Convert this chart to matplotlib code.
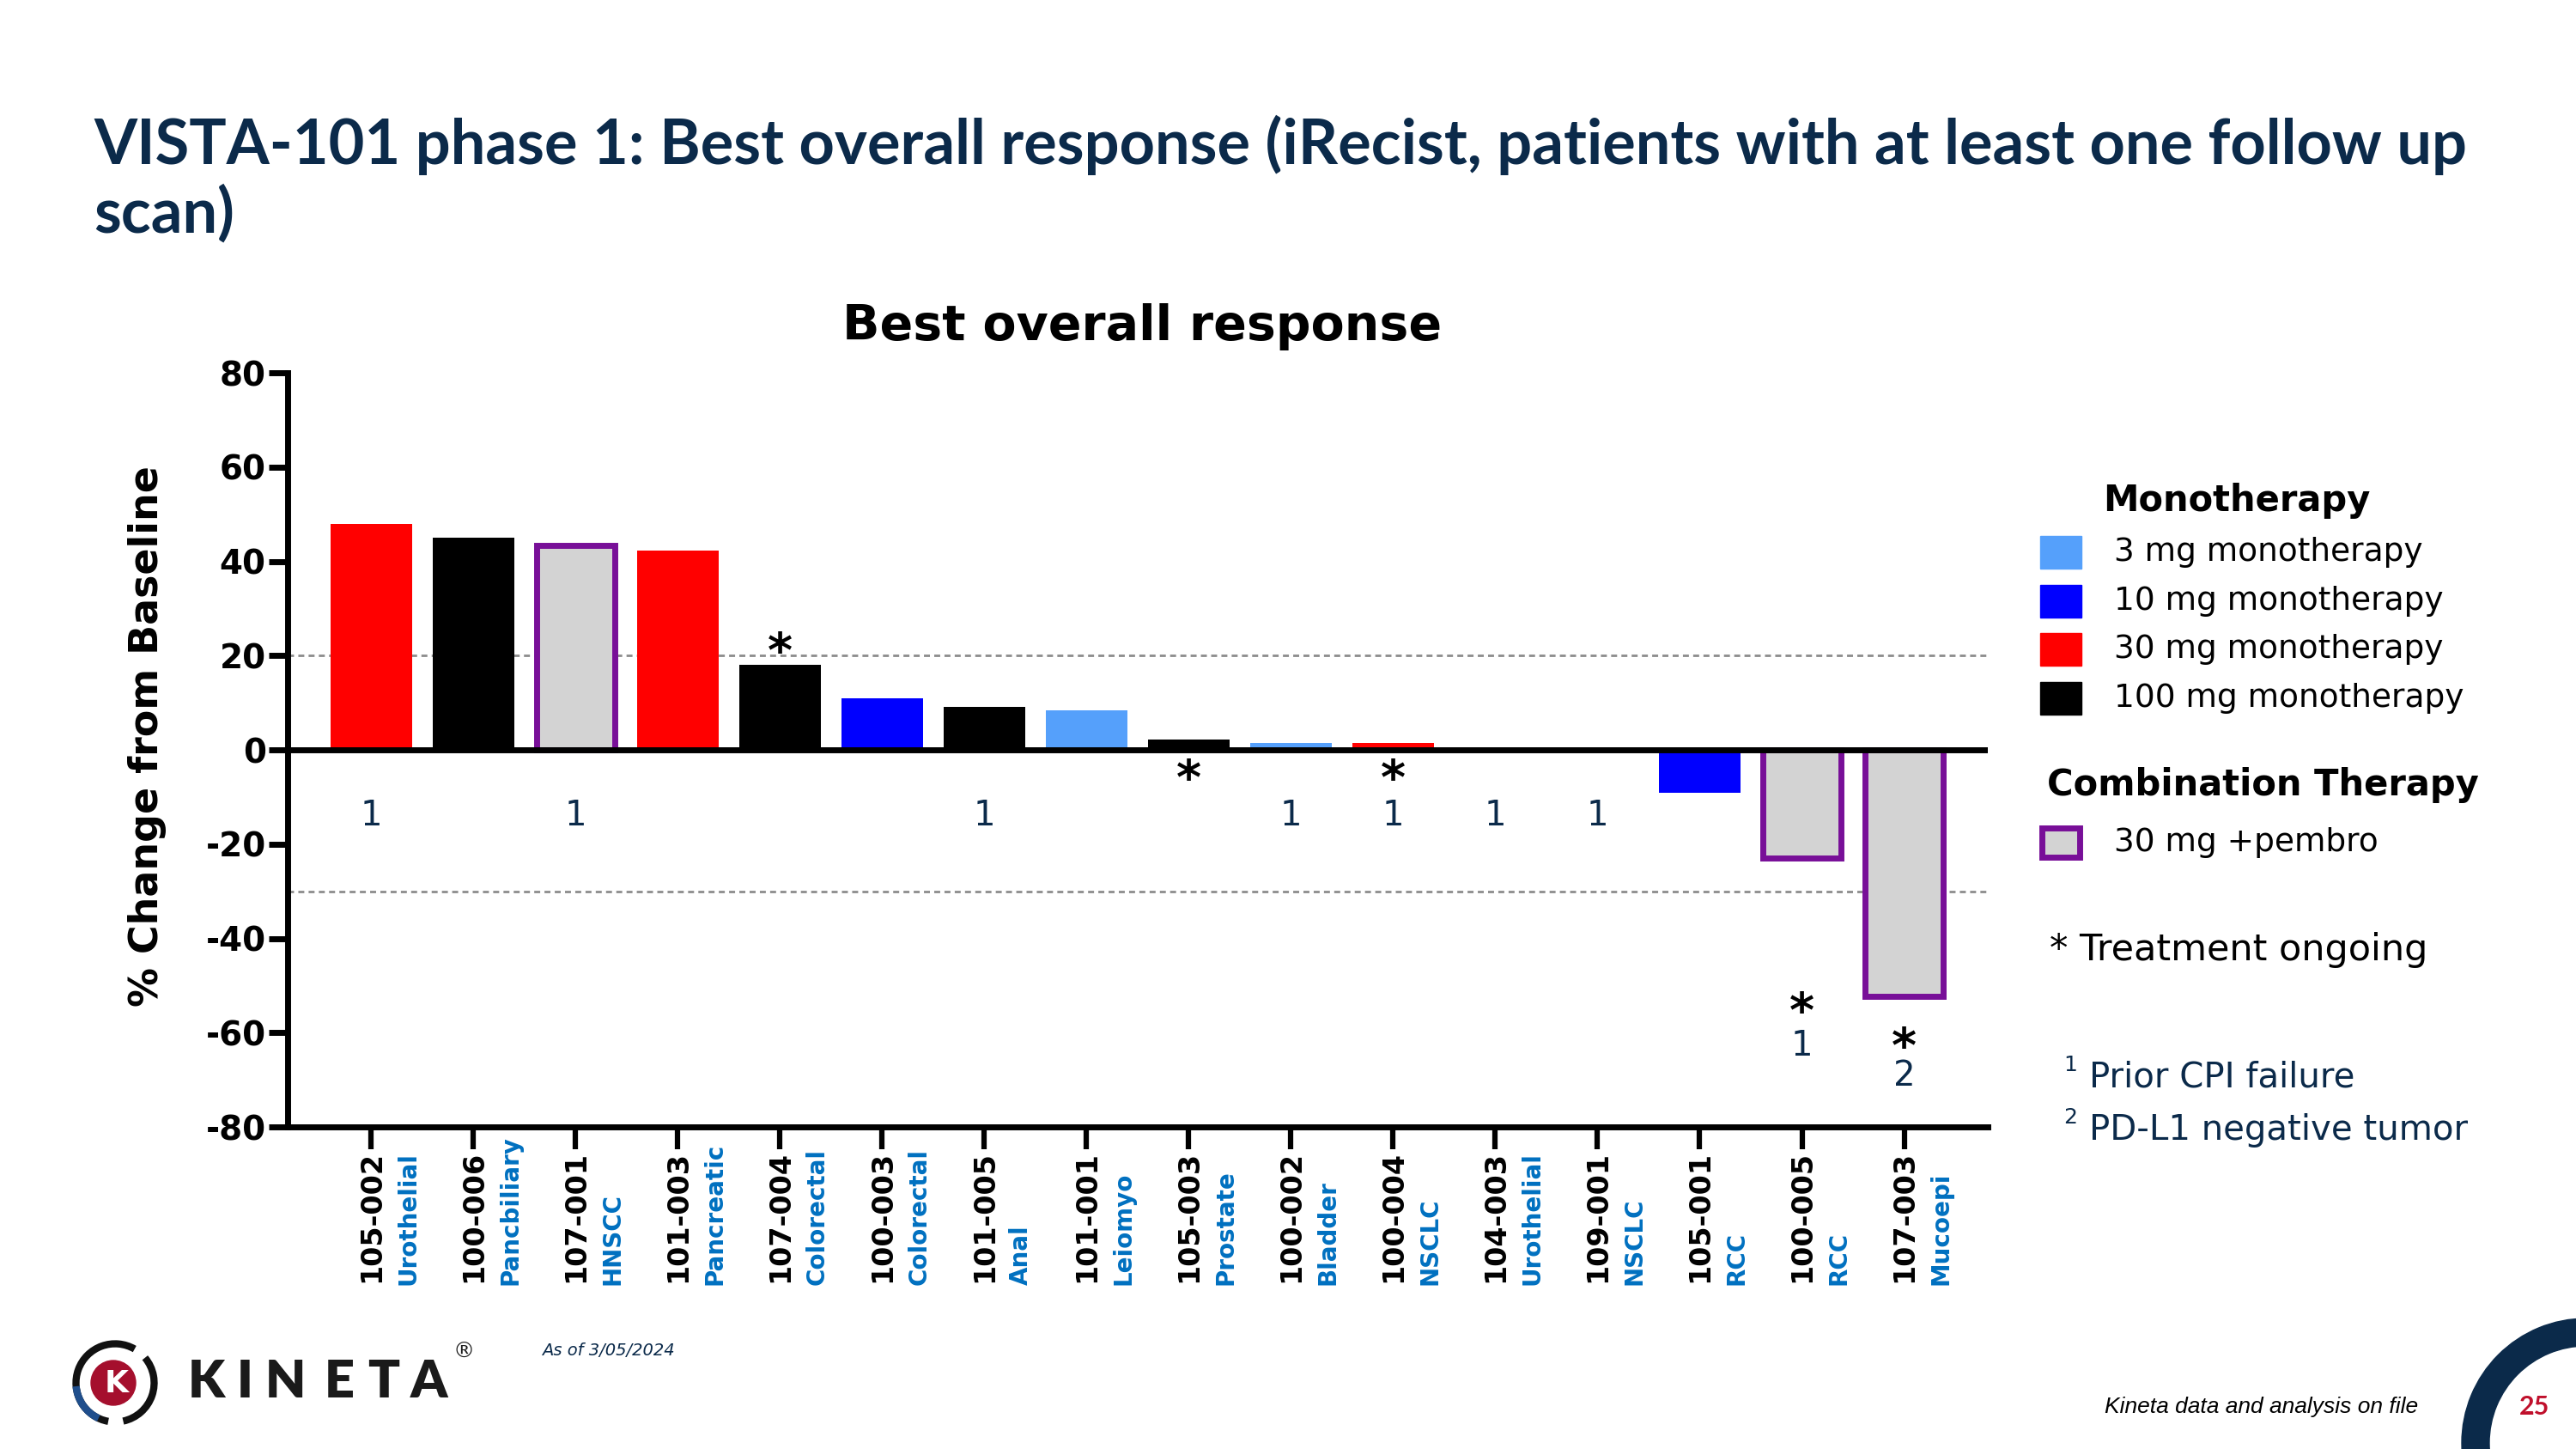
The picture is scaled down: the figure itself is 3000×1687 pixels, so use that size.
import matplotlib
matplotlib.use('Agg')
import matplotlib.pyplot as plt
import matplotlib.transforms as mtransforms
from matplotlib.patches import Rectangle, Wedge, Circle, Arc

# Datos de la figura
patients = ['105-002', '100-006', '107-001', '101-003', '107-004', '100-003', '101-005', '101-001',
            '105-003', '100-002', '100-004', '104-003', '109-001', '105-001', '100-005', '107-003']
tumors = ['Urothelial', 'Pancbiliary', 'HNSCC', 'Pancreatic', 'Colorectal', 'Colorectal', 'Anal', 'Leiomyo',
          'Prostate', 'Bladder', 'NSCLC', 'Urothelial', 'NSCLC', 'RCC', 'RCC', 'Mucoepi']
change = [48, 45, 43.5, 42.3, 18, 11, 9.2, 8.5, 2.3, 1.5, 1.5, 0, -0.5, -9, -23, -52.3]
cohort = ['30mg', '100mg', 'combo', '30mg', '100mg', '10mg', '100mg', '3mg',
          '100mg', '3mg', '30mg', '100mg', '30mg', '10mg', 'combo', 'combo']
ongoing = [False, False, False, False, True, False, False, False,
           True, False, True, False, False, False, True, True]
footnote = ['1', '', '1', '', '', '', '1', '', '', '1', '1', '1', '1', '', '1', '2']

mono_labels = ['3 mg monotherapy', '10 mg monotherapy', '30 mg monotherapy', '100 mg monotherapy']
mono_keys = ['3mg', '10mg', '30mg', '100mg']

colors = {'3mg': '#55a0fb', '10mg': '#0000ff', '30mg': '#ff0000', '100mg': '#000000'}
GREY = '#d3d3d3'
PURPLE = '#780f98'
NAVY = '#0b2a4a'
TUMOR_BLUE = '#0070c0'

plt.rcParams['axes.unicode_minus'] = False
plt.rcParams['font.family'] = 'DejaVu Sans'

fig = plt.figure(figsize=(30, 16.87), dpi=100)

# capa de fondo en coordenadas de pixel (para textos de la diapositiva)
bg = fig.add_axes([0, 0, 1, 1])
bg.set_xlim(0, 3000)
bg.set_ylim(1687, 0)
bg.axis('off')

ax = fig.add_axes([0.1116, 0.2222, 0.6601, 0.5204])

# Barras
for i, (v, c) in enumerate(zip(change, cohort)):
    if c == 'combo':
        ax.bar(i, v, width=0.76, color=GREY, edgecolor=PURPLE, linewidth=5, zorder=2)
    else:
        ax.bar(i, v, width=0.8, color=colors[c], zorder=2)

ax.axhline(0, color='black', lw=5, zorder=3)
for yref in (20, -30):
    ax.axhline(yref, color='#8c8c8c', lw=2, ls=(0, (2.5, 1.8)), zorder=1)

ax.set_xlim(-0.82, 15.82)
ax.set_ylim(-80, 80)
for s in ('top', 'right'):
    ax.spines[s].set_visible(False)
for s in ('left', 'bottom'):
    ax.spines[s].set_linewidth(5)

ax.set_yticks(range(-80, 81, 20))
ax.tick_params(axis='y', labelsize=28, width=5, length=16, pad=2)
for lbl in ax.get_yticklabels():
    lbl.set_fontweight('bold')

ax.set_xticks(range(len(patients)))
ax.set_xticklabels(patients, rotation=90, fontsize=24, fontweight='bold')
ax.tick_params(axis='x', width=4.5, length=19, pad=1)

# tipo de tumor en azul
trans = mtransforms.blended_transform_factory(ax.transData, ax.transAxes)
for i, t in enumerate(tumors):
    ax.text(i + 0.36, -0.2096, t, rotation=90, ha='center', va='bottom', transform=trans,
            fontsize=20, fontweight='bold', color=TUMOR_BLUE)

# asteriscos (tratamiento en curso) y notas
star_fs = 40
star_trans = mtransforms.offset_copy(ax.transData, fig=fig, y=-0.55 * star_fs, units='points')
star_y = {4: 23.2, 8: -3.7, 10: -3.7, 14: -53.0, 15: -60.6}
for i, on in enumerate(ongoing):
    if on:
        ax.text(i, star_y[i], '*', ha='center', va='baseline', fontsize=star_fs,
                fontweight='bold', transform=star_trans, color='black')

note_y = {14: -62.0, 15: -68.4}
for i, n in enumerate(footnote):
    if n:
        ax.text(i, note_y.get(i, -13.1), n, ha='center', va='center_baseline',
                fontsize=29, color=NAVY)

# Textos de la diapositiva
bg.text(109, 191, 'VISTA-101 phase 1: Best overall response (iRecist, patients with at least one follow up',
        fontsize=52, fontweight='bold', color=NAVY, family='Lato', va='baseline', ha='left')
bg.text(109, 270, 'scan)', fontsize=52, fontweight='bold', color=NAVY, family='Lato',
        va='baseline', ha='left')

bg.text(1330, 396, 'Best overall response', fontsize=41, fontweight='bold', ha='center', va='baseline')
bg.text(172, 857, '% Change from Baseline', fontsize=33, fontweight='bold', rotation=90,
        ha='center', va='center')

# Leyenda
bg.text(2449, 583, 'Monotherapy', fontsize=30, fontweight='bold', va='center', ha='left')
for k, (lab, key) in enumerate(zip(mono_labels, mono_keys)):
    yc = 643 + k * 56.7
    bg.add_patch(Rectangle((2376, yc - 19), 48, 38, color=colors[key]))
    bg.text(2462, yc, lab, fontsize=27, va='center', ha='left')

bg.text(2384, 914, 'Combination Therapy', fontsize=30, fontweight='bold', va='center', ha='left')
bg.add_patch(Rectangle((2378, 981 - 17), 44, 34, facecolor=GREY, edgecolor=PURPLE, linewidth=5))
bg.text(2462, 981, '30 mg +pembro', fontsize=27, va='center', ha='left')

bg.text(2387, 1106, '* Treatment ongoing', fontsize=31, va='center', ha='left')

bg.text(2403, 1240, '1', fontsize=18, va='center', ha='left', color=NAVY)
bg.text(2433, 1255, 'Prior CPI failure', fontsize=29, va='center', ha='left', color=NAVY)
bg.text(2403, 1301, '2', fontsize=18, va='center', ha='left', color=NAVY)
bg.text(2433, 1316, 'PD-L1 negative tumor', fontsize=29, va='center', ha='left', color=NAVY)

# Pie de pagina: logo, fecha, nota, numero de pagina
lc = (134, 1610)
bg.add_patch(Arc(lc, 91, 91, theta1=100, theta2=300, color='#111111', lw=6))
bg.add_patch(Arc(lc, 91, 91, theta1=115, theta2=175, color='#1f4e8c', lw=6))
bg.add_patch(Arc(lc, 91, 91, theta1=320, theta2=78, color='#111111', lw=6))
bg.add_patch(Circle((lc[0] - 2, lc[1]), 26, color='#a50f2d'))
bg.text(lc[0] + 2, lc[1] + 1, 'K', color='white', fontsize=26, fontweight='bold', ha='center', va='center')
for letter, xc in zip('KINETA', [240, 285, 332, 395, 447, 500]):
    bg.text(xc, 1609, letter, fontsize=44, fontweight='heavy', family='Lato',
            ha='center', va='center', color='#1a1a1a')
bg.text(540, 1574, '®', fontsize=18, ha='center', va='center', color='#1a1a1a')

bg.text(631, 1572, 'As of 3/05/2024', fontsize=14, style='italic', color=NAVY, va='center', ha='left')
bg.text(2451, 1638, 'Kineta data and analysis on file', fontsize=19, style='italic',
        family='Liberation Sans', va='center', ha='left')

bg.add_patch(Wedge((3012, 1680), 145, 0, 360, width=32, color=NAVY))
bg.text(2952, 1638, '25', fontsize=22, fontweight='bold', color='#c0102c', family='Lato',
        ha='center', va='center', zorder=5)

fig.savefig('out.png', dpi=100)
